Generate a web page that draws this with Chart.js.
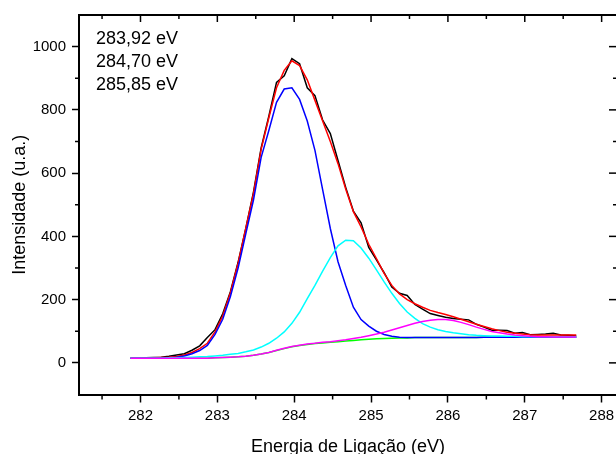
<!DOCTYPE html>
<html>
<head>
<meta charset="utf-8">
<script src="https://cdn.jsdelivr.net/npm/chart.js@4.4.1/dist/chart.umd.min.js"></script>
<style>
    html, body { margin: 0; padding: 0; background: #fff; overflow: hidden; }
    #wrap { width: 616px; height: 454px; overflow: hidden; }
    #xpsChart { display: block; }
</style>
</head>
<body>
<div id="wrap"><canvas id="xpsChart" width="630" height="460"></canvas></div>
<script>
/* ================= DATA (C 1s) ================= */
const energy = [
    281.87, 281.97, 282.07, 282.17, 282.27, 282.37, 282.47, 282.57, 282.67, 282.77,
    282.87, 282.97, 283.07, 283.17, 283.27, 283.37, 283.47, 283.57, 283.67, 283.77,
    283.87, 283.97, 284.07, 284.17, 284.27, 284.37, 284.47, 284.57, 284.67, 284.77,
    284.87, 284.97, 285.07, 285.17, 285.27, 285.37, 285.47, 285.57, 285.67, 285.77,
    285.87, 285.97, 286.07, 286.17, 286.27, 286.37, 286.47, 286.57, 286.67, 286.77,
    286.87, 286.97, 287.07, 287.17, 287.27, 287.37, 287.47, 287.57, 287.67
];

// experimental spectrum (black)
const experimental = [
    15, 15, 16, 17, 18, 21, 25, 29, 40, 54,
    80, 105, 155, 225, 318, 425, 540, 680, 780, 887,
    908, 962, 946, 870, 845, 768, 725, 640, 555, 480,
    443, 365, 326, 285, 240, 220, 213, 185, 170, 156,
    150, 144, 140, 138, 136, 122, 113, 103, 103, 102,
    94, 96, 89, 90, 91, 94, 88, 87, 85
];

// fit envelope (red)
const envelope = [
    15, 15, 15, 16, 17, 18, 20, 25, 33, 45,
    62, 98, 148, 222, 315, 425, 535, 675, 775, 870,
    925, 955, 940, 895, 830, 765, 700, 630, 550, 478,
    430, 375, 330, 283, 245, 218, 200, 187, 176, 166,
    159, 153, 146, 138, 130, 122, 115, 108, 102, 97,
    94, 91, 89, 88, 88, 88, 88, 88, 88
];

// component 283,92 eV (blue)
const peak1 = [
    15, 15, 15, 15, 15, 16, 18, 22, 29, 39,
    55, 90, 138, 210, 300, 408, 515, 650, 735, 824,
    866, 870, 833, 765, 672, 548, 425, 320, 245, 176,
    137, 116, 100, 90, 84, 81, 80, 80, 80, 80,
    80, 80, 80, 80, 80, 80, 81, 81, 81, 81,
    81, 81, 81, 81, 81, 81, 81, 81, 81
];

// component 284,70 eV (cyan)
const peak2 = [
    15, 15, 15, 15, 15, 16, 16, 17, 18, 19,
    20, 22, 24, 27, 30, 35, 41, 50, 62, 78,
    98, 125, 160, 203, 245, 290, 333, 370, 388, 386,
    363, 331, 294, 256, 220, 188, 161, 141, 124, 113,
    105, 99, 95, 92, 89, 87, 86, 85, 85, 84,
    84, 83, 83, 83, 83, 83, 83, 83, 82
];

// component 285,85 eV (magenta)
const peak3 = [
    15, 15, 15, 15, 15, 15, 15, 15, 15, 15,
    15, 16, 17, 18, 19, 21, 24, 28, 33, 40,
    46, 52, 56, 60, 62, 65, 67, 70, 73, 77,
    81, 86, 91, 97, 104, 111, 118, 125, 131, 135,
    137, 137, 134, 128, 121, 113, 106, 99, 95, 91,
    88, 86, 84, 83, 83, 82, 82, 82, 82
];

// background (green)
const background = [
    15, 15, 15, 15, 15, 15, 15, 15, 15, 15,
    15, 16, 17, 18, 19, 21, 24, 28, 33, 39,
    45, 51, 55, 58, 61, 63, 65, 67, 69, 71,
    73, 75, 76, 77, 78, 79, 79, 80, 80, 80,
    80, 80, 80, 80, 80, 80, 81, 81, 81, 81,
    81, 81, 81, 81, 81, 81, 81, 81, 81
];

const peakLabels = ['283,92 eV', '284,70 eV', '285,85 eV'];

const xMajorTicks = [282, 283, 284, 285, 286, 287, 288];
const xMinorTicks = [281.5, 282.5, 283.5, 284.5, 285.5, 286.5, 287.5];
const yMajorTicks = [0, 200, 400, 600, 800, 1000];
const yMinorTicks = [100, 300, 500, 700, 900];

/* ================= HELPERS ================= */
const FONT = '"Liberation Sans", Arial, sans-serif';
Chart.defaults.font.family = FONT;
Chart.defaults.color = '#000';

function toPoints(values) {
    return energy.map((e, i) => ({ x: e, y: values[i] }));
}

function lineSet(label, values, color, order) {
    return {
        label,
        data: toPoints(values),
        borderColor: color,
        backgroundColor: color,
        borderWidth: 1.5,
        pointRadius: 0,
        tension: 0,
        fill: false,
        order
    };
}

/* ================= FRAME: top axis, inner ticks, minor ticks, labels ================= */
const frameTicks = {
    id: 'frameTicks',
    afterDraw(chart) {
        const { ctx, chartArea: a, scales: { x, y } } = chart;
        ctx.save();
        ctx.strokeStyle = '#000';

        ctx.lineWidth = 2;
        ctx.beginPath();
        ctx.moveTo(a.left - 1, a.top);
        ctx.lineTo(a.right + 1, a.top);
        ctx.stroke();

        ctx.lineWidth = 1.5;
        const tick = (x0, y0, x1, y1) => {
            ctx.beginPath();
            ctx.moveTo(x0, y0);
            ctx.lineTo(x1, y1);
            ctx.stroke();
        };

        xMajorTicks.forEach(v => {
            const px = x.getPixelForValue(v);
            tick(px, a.top, px, a.top + 7);
        });
        xMinorTicks.forEach(v => {
            const px = x.getPixelForValue(v);
            tick(px, a.top, px, a.top + 4);
            tick(px, a.bottom, px, a.bottom + 5);
        });
        yMajorTicks.forEach(v => {
            const py = y.getPixelForValue(v);
            tick(a.right, py, a.right - 8, py);
        });
        yMinorTicks.forEach(v => {
            const py = y.getPixelForValue(v);
            tick(a.right, py, a.right - 4, py);
            tick(a.left, py, a.left - 4, py);
        });

        ctx.fillStyle = '#000';
        ctx.font = '18px ' + FONT;
        ctx.textAlign = 'left';
        ctx.textBaseline = 'alphabetic';
        peakLabels.forEach((t, i) => {
            ctx.fillText(t, a.left + 17, a.top + 28.5 + i * 23);
        });
        ctx.restore();
    }
};

/* ================= CHART ================= */
new Chart(document.getElementById('xpsChart'), {
    type: 'line',
    data: {
        datasets: [
            lineSet('Experimental', experimental, '#000000', 6),
            lineSet('Envelope', envelope, '#ff0000', 5),
            lineSet('Background', background, '#00ff00', 4),
            lineSet('283,92 eV', peak1, '#0000ff', 3),
            lineSet('284,70 eV', peak2, '#00ffff', 2),
            lineSet('285,85 eV', peak3, '#ff00ff', 1)
        ]
    },
    options: {
        responsive: false,
        animation: false,
        devicePixelRatio: 1,
        layout: { padding: { top: 12.5, right: 13, left: 0, bottom: 0 } },
        plugins: {
            legend: { display: false },
            tooltip: { enabled: false }
        },
        scales: {
            x: {
                type: 'linear',
                min: 281.2,
                max: 288.2,
                afterFit: s => { s.height = 65.5; },
                afterBuildTicks: s => { s.ticks = xMajorTicks.map(v => ({ value: v })); },
                ticks: {
                    color: '#000',
                    font: { size: 15 },
                    padding: 4,
                    maxRotation: 0,
                    autoSkip: false,
                    callback: v => String(v)
                },
                grid: {
                    display: true,
                    drawOnChartArea: false,
                    drawTicks: true,
                    tickLength: 8,
                    tickWidth: 1.5,
                    tickColor: '#000'
                },
                border: { display: true, color: '#000', width: 2 },
                title: {
                    display: true,
                    text: 'Energia de Ligação (eV)',
                    color: '#000',
                    font: { size: 18 },
                    padding: { top: 0, bottom: 2 }
                }
            },
            y: {
                type: 'linear',
                min: -100,
                max: 1100,
                afterFit: s => { s.width = 79; },
                afterBuildTicks: s => { s.ticks = yMajorTicks.map(v => ({ value: v })); },
                ticks: {
                    color: '#000',
                    font: { size: 15 },
                    padding: 6,
                    autoSkip: false,
                    callback: v => String(v)
                },
                grid: {
                    display: true,
                    drawOnChartArea: false,
                    drawTicks: true,
                    tickLength: 7,
                    tickWidth: 1.5,
                    tickColor: '#000'
                },
                border: { display: true, color: '#000', width: 2 },
                title: {
                    display: true,
                    text: 'Intensidade (u.a.)',
                    color: '#000',
                    font: { size: 18 },
                    padding: { top: 9, bottom: 0 }
                }
            }
        }
    },
    plugins: [frameTicks]
});
</script>
</body>
</html>
